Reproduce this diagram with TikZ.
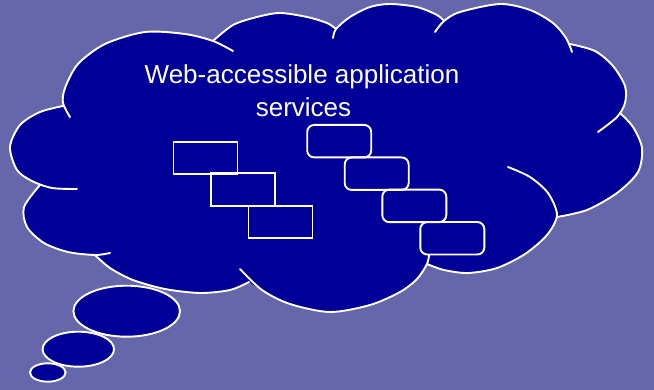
\documentclass[tikz,border=0pt]{standalone}
\usepackage{fontspec}
\setmainfont{Liberation Sans}
\definecolor{skybg}{HTML}{6666AA}
\definecolor{cloudfill}{HTML}{000099}
\begin{document}
\begin{tikzpicture}[x=1pt,y=-1pt,
  outline/.style={draw=white,line width=1.9pt,line join=round,line cap=round},
  plainbox/.style={draw=white,line width=1.9pt,minimum width=64pt,minimum height=32.5pt,inner sep=0pt},
  roundbox/.style={plainbox,rounded corners=7pt},
  bubble/.style={fill=cloudfill,draw=white,line width=1.9pt},
  caption/.style={text=white,font=\fontsize{26}{31}\selectfont,anchor=base,inner sep=0pt}]

% canvas
\useasboundingbox (0,0) rectangle (654,390);
\fill[skybg] (0,0) rectangle (654,390);

% cloud body, bump by bump (clockwise)
\fill[cloudfill]
  plot[smooth] coordinates {(63,106) (65,88) (78,64) (105,44) (145,32) (185,34) (213,41)}
  -- plot[smooth] coordinates {(213,41) (233,25) (257,17) (280,13) (307,17) (327,23) (336,29)}
  -- plot[smooth] coordinates {(336,29) (350,17) (370,7) (390,4) (417,7) (437,15) (444,21)}
  -- plot[smooth] coordinates {(444,21) (460,12) (500,4) (530,10) (553,23) (567,40) (570,44)}
  -- plot[smooth] coordinates {(570,44) (595,51) (613,66) (625,86) (625,103) (620,113)}
  -- plot[smooth] coordinates {(620,113) (633,127) (642,148) (638,172) (617,193) (587,210) (557,217)}
  -- plot[smooth] coordinates {(557,217) (547,235) (525,254) (497,268) (468,273) (444,270) (427,264)}
  -- plot[smooth] coordinates {(427,264) (417,279) (400,292) (370,305) (330,312) (290,304) (267,293) (249,282)}
  -- plot[smooth] coordinates {(249,282) (230,290) (200,293) (165,289) (133,280) (110,268) (95,255)}
  -- plot[smooth] coordinates {(95,255) (68,252) (44,243) (27,227) (24,207) (40,185)}
  -- plot[smooth] coordinates {(40,185) (17,170) (10,147) (20,125) (40,112) (63,106)}
  -- cycle;

% cloud outline arcs, with their short inner tails
\draw[outline] plot[smooth] coordinates {(70,117) (63,103) (65,88) (78,64) (105,44) (145,32) (185,34) (213,41) (233,51)};
\draw[outline] plot[smooth] coordinates {(213,41) (233,25) (257,17) (280,13) (307,17) (327,23) (336,29)};
\draw[outline] plot[smooth] coordinates {(333,38) (336,29) (350,17) (370,7) (390,4) (417,7) (437,15) (444,21)};
\draw[outline] plot[smooth] coordinates {(435,32) (444,21) (460,12) (500,4) (530,10) (553,23) (566,38) (572,52)};
\draw[outline] plot[smooth] coordinates {(570,44) (595,51) (613,66) (625,86) (625,103) (617,117) (598,132)};
\draw[outline] plot[smooth] coordinates {(620,113) (633,127) (642,148) (638,172) (617,193) (587,210) (557,217)};
\draw[outline] plot[smooth] coordinates {(508,167) (530,177) (548,193) (557,215) (547,235) (525,254) (497,268) (468,273) (444,270) (427,264)};
\draw[outline] plot[smooth] coordinates {(429,255) (427,264) (417,279) (400,292) (370,305) (330,312) (290,304) (262,290) (240,269)};
\draw[outline] plot[smooth] coordinates {(249,282) (230,290) (200,293) (165,289) (133,280) (110,268) (95,255)};
\draw[outline] plot[smooth] coordinates {(110,253) (95,255) (68,252) (44,243) (27,227) (24,207) (40,185)};
\draw[outline] plot[smooth] coordinates {(77,189) (52,188) (32,181) (17,170) (10,147) (20,125) (40,112) (63,106)};

% thought bubbles
\draw[bubble] (126.7,311.2) ellipse [x radius=53.3pt, y radius=25.5pt];
\draw[bubble] (78.3,349.2) ellipse [x radius=35.7pt, y radius=17.5pt];
\draw[bubble] (47.8,372.5) ellipse [x radius=17.8pt, y radius=9.2pt];

% caption
\node[caption] (title) at (302,84) {Web-accessible application};
\node[caption] (title2) at (303.5,117) {services};

% square-cornered stack
\node[plainbox] (r1) at (205.5,157.9) {};
\node[plainbox] (r2) at (243,189.7) {};
\node[plainbox] (r3) at (280.5,222.2) {};

% rounded stack
\node[roundbox] (q1) at (339.2,141.2) {};
\node[roundbox] (q2) at (376.7,173.7) {};
\node[roundbox] (q3) at (414.3,205.9) {};
\node[roundbox] (q4) at (452.3,238.3) {};
\end{tikzpicture}
\end{document}
